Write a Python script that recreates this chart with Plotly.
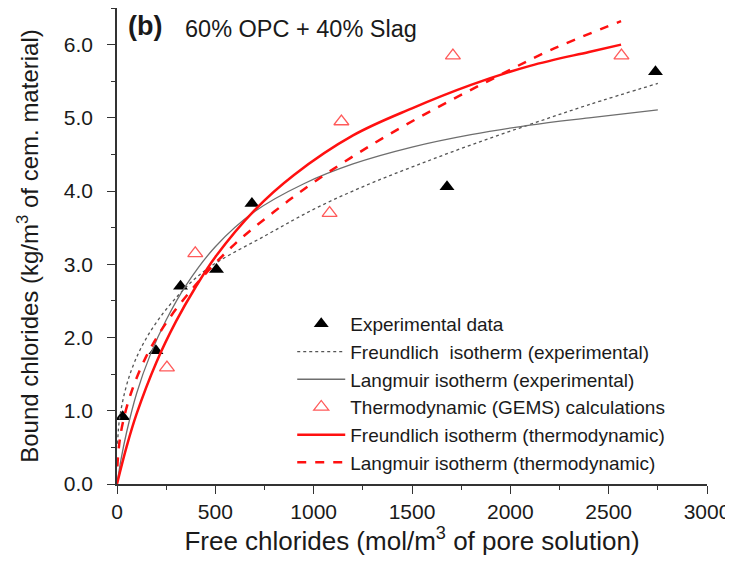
import plotly.graph_objects as go

# Experimental data
exp_x = [29, 198, 323, 506, 686, 1678, 2738]
exp_y = [0.92, 1.82, 2.70, 2.93, 3.83, 4.06, 5.63]

# Thermodynamic (GEMS) calculations
gems_x = [254, 398, 1081, 1141, 1708, 2565]
gems_y = [1.59, 3.15, 3.70, 4.95, 5.85, 5.85]

# Freundlich isotherm (experimental) - dotted grey curve
fe_x = [3, 15, 66, 151, 286, 455, 760, 1014, 1268, 1521, 1800, 2100, 2400, 2750]
fe_y = [0.55, 0.93, 1.50, 2.00, 2.50, 2.93, 3.40, 3.77, 4.08, 4.35, 4.63, 4.91, 5.18, 5.47]

# Langmuir isotherm (experimental) - thin grey curve
le_x = [0, 20, 50, 100, 170, 250, 350, 500, 700, 950, 1200, 1500, 1800, 2100, 2400, 2750]
le_y = [0, 0.33, 0.72, 1.24, 1.77, 2.24, 2.71, 3.24, 3.72, 4.10, 4.37, 4.60, 4.77, 4.90, 5.00, 5.11]

# Freundlich isotherm (thermodynamic) - solid red
ft_x = [0, 50, 100, 200, 300, 400, 500, 700, 900, 1200, 1500, 1800, 2100, 2400, 2563]
ft_y = [0, 0.52, 0.96, 1.66, 2.22, 2.69, 3.10, 3.74, 4.22, 4.76, 5.13, 5.45, 5.71, 5.90, 6.00]

# Langmuir isotherm (thermodynamic) - dashed red
lt_x = [2, 5, 15, 35, 75, 150, 250, 400, 600, 800, 1000, 1300, 1600, 1900, 2200, 2563]
lt_y = [0.24, 0.37, 0.62, 0.90, 1.27, 1.75, 2.20, 2.72, 3.28, 3.72, 4.12, 4.64, 5.10, 5.52, 5.92, 6.32]

x_ticks = [0, 500, 1000, 1500, 2000, 2500, 3000]
y_ticks = [0, 1, 2, 3, 4, 5, 6]

FONT = "Liberation Sans, Arial, sans-serif"
TXT = "#1a1a1a"
AX = "#333333"

fig = go.Figure()

fig.add_trace(go.Scatter(
    x=exp_x, y=exp_y, mode="markers", name="Experimental data",
    marker=dict(symbol="triangle-up", size=13, color="black", line=dict(width=0)),
))
fig.add_trace(go.Scatter(
    x=fe_x, y=fe_y, mode="lines", name="Freundlich  isotherm (experimental)",
    line=dict(color="#555555", width=1.3, dash="dot", shape="spline"),
))
fig.add_trace(go.Scatter(
    x=le_x, y=le_y, mode="lines", name="Langmuir isotherm (experimental)",
    line=dict(color="#6e6e6e", width=1.3, shape="spline"),
))
fig.add_trace(go.Scatter(
    x=gems_x, y=gems_y, mode="markers", name="Thermodynamic (GEMS) calculations",
    marker=dict(symbol="triangle-up-open", size=13, color="#ff5a5a", line=dict(width=1.3)),
))
fig.add_trace(go.Scatter(
    x=ft_x, y=ft_y, mode="lines", name="Freundlich isotherm (thermodynamic)",
    line=dict(color="#ff1010", width=2.5, shape="spline"),
))
fig.add_trace(go.Scatter(
    x=lt_x, y=lt_y, mode="lines", name="Langmuir isotherm (thermodynamic)",
    line=dict(color="#ff1010", width=2.5, dash="dash", shape="spline"),
))

fig.update_layout(
    width=725, height=555,
    margin=dict(l=109, r=26, t=0, b=79),
    paper_bgcolor="white", plot_bgcolor="white",
    font=dict(family=FONT, color=TXT),
    showlegend=True,
    legend=dict(
        x=0.297, y=0.376, xanchor="left", yanchor="top",
        bgcolor="rgba(0,0,0,0)", font=dict(size=19, family=FONT, color=TXT),
        tracegroupgap=0, itemwidth=48,
    ),
    annotations=[
        dict(x=0.016, y=0.962, xref="paper", yref="paper", xanchor="left", yanchor="middle",
             text="<b>(b)</b>", showarrow=False, font=dict(size=27, family=FONT, color=TXT)),
        dict(x=0.112, y=0.956, xref="paper", yref="paper", xanchor="left", yanchor="middle",
             text="60% OPC + 40% Slag", showarrow=False, font=dict(size=23.5, family=FONT, color=TXT)),
    ],
)

fig.update_xaxes(
    range=[0, 3000], tickvals=x_ticks, ticktext=[str(v) for v in x_ticks],
    showgrid=False, zeroline=False, showline=True, linecolor=AX, linewidth=1.6,
    ticks="outside", ticklen=8, tickwidth=1.4, tickcolor=AX, ticklabelstandoff=0,
    minor=dict(dtick=250, ticks="outside", ticklen=4, tickwidth=1.3, tickcolor=AX),
    tickfont=dict(size=21, family=FONT, color=TXT),
    title=dict(text="Free chlorides (mol/m<sup>3</sup> of pore solution)",
               font=dict(size=26, family=FONT, color=TXT), standoff=8),
)
fig.update_yaxes(
    range=[0, 6.5], tickvals=y_ticks, ticktext=[f"{v:.1f}" for v in y_ticks],
    showgrid=False, zeroline=False, showline=True, linecolor=AX, linewidth=1.6,
    ticks="outside", ticklen=8, tickwidth=1.4, tickcolor=AX, ticklabelstandoff=10,
    minor=dict(dtick=0.5, ticks="outside", ticklen=4, tickwidth=1.3, tickcolor=AX),
    tickfont=dict(size=21, family=FONT, color=TXT),
    title=dict(text="Bound chlorides (kg/m<sup>3</sup> of cem. material)",
               font=dict(size=24, family=FONT, color=TXT), standoff=18),
)

fig.write_html("out.html")
